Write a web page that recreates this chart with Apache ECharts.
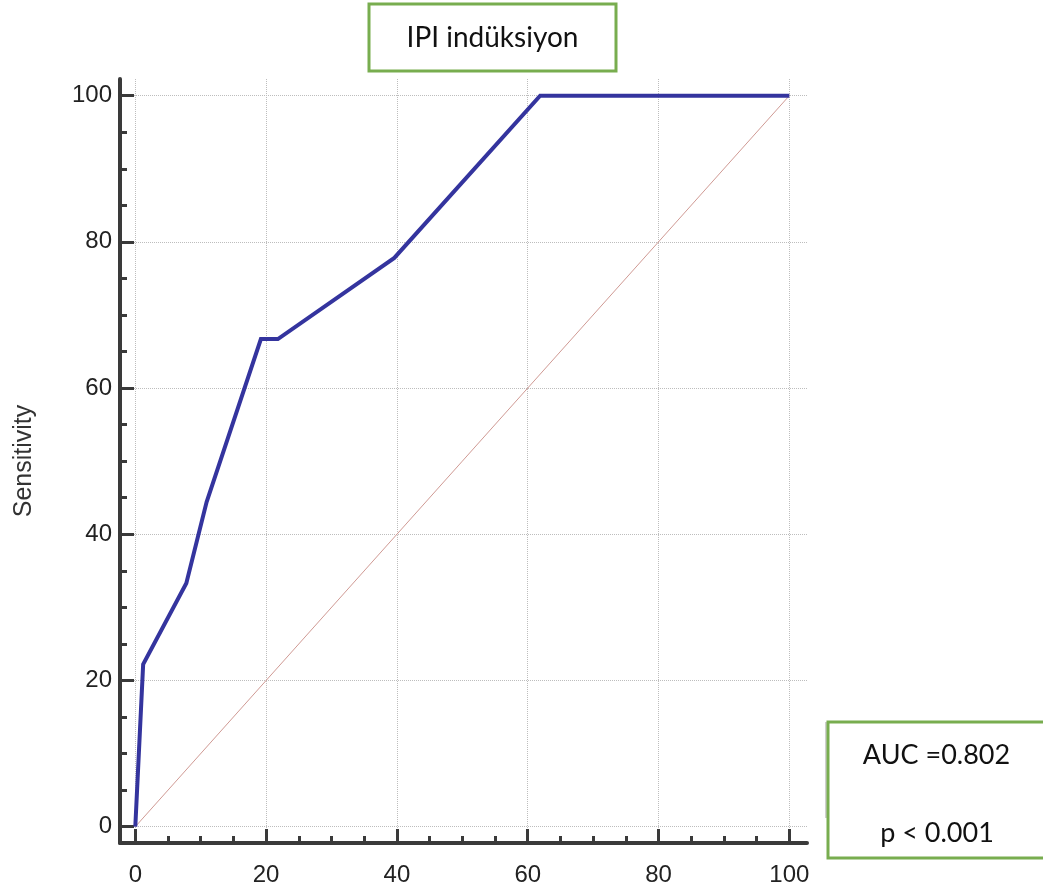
<!DOCTYPE html>
<html>
<head>
<meta charset="utf-8">
<script src="https://cdn.jsdelivr.net/npm/echarts@6/dist/echarts.min.js"></script>
<style>
html,body{margin:0;padding:0;background:#fff;}
#chart{width:1043px;height:892px;}
</style>
</head>
<body>
<div id="chart"></div>
<script>
// Data
var fprValues = [0, 1.2, 7.8, 10.9, 19.2, 21.8, 39.6, 61.9, 100];
var sensitivityValues = [0, 22.2, 33.3, 44.4, 66.7, 66.7, 77.8, 100, 100];
var refLineX = [0, 100];
var refLineY = [0, 100];
var majorTicks = [0, 20, 40, 60, 80, 100];
var minorTicks = [5, 10, 15, 25, 30, 35, 45, 50, 55, 65, 70, 75, 85, 90, 95];
var titleText = 'IPI indüksiyon';
var yAxisTitle = 'Sensitivity';
var aucText = 'AUC =0.802';
var pText = 'p < 0.001';

var rocData = fprValues.map(function (x, i) { return [x, sensitivityValues[i]]; });
var refData = refLineX.map(function (x, i) { return [x, refLineY[i]]; });

var axisColor = '#3a3a3a';
var xMin = -2.34, xMax = 102.7, yMin = -2.23, yMax = 102.28;

function majorAxis(kind) {
  var isX = kind === 'x';
  return {
    type: 'value',
    min: isX ? xMin : yMin,
    max: isX ? xMax : yMax,
    position: isX ? 'bottom' : 'left',
    axisLine: { show: true, onZero: false, lineStyle: { color: axisColor, width: 4 } },
    axisTick: { show: true, inside: true, length: 14, customValues: majorTicks.slice(),
      lineStyle: { color: axisColor, width: 3 } },
    axisLabel: { show: true, customValues: majorTicks.slice(), margin: isX ? 20 : 8,
      fontFamily: 'Liberation Sans', fontSize: 24, color: '#222' },
    splitLine: { show: true, lineStyle: { type: 'dotted', color: '#bdbdbd', width: 1 } }
  };
}
function minorAxis(kind) {
  var isX = kind === 'x';
  return {
    type: 'value',
    min: isX ? xMin : yMin,
    max: isX ? xMax : yMax,
    position: isX ? 'bottom' : 'left',
    axisLine: { show: false, onZero: false },
    axisTick: { show: true, inside: true, length: 7, customValues: minorTicks.slice(),
      lineStyle: { color: axisColor, width: 3 } },
    axisLabel: { show: false },
    splitLine: { show: false }
  };
}

var yMajor = majorAxis('y');
yMajor.name = yAxisTitle;
yMajor.nameLocation = 'middle';
yMajor.nameGap = 83;
yMajor.nameTextStyle = { fontFamily: 'Liberation Sans', fontSize: 25, color: '#333' };

var chart = echarts.init(document.getElementById('chart'), null, { renderer: 'canvas' });
chart.setOption({
  animation: false,
  backgroundColor: '#ffffff',
  grid: { left: 120, top: 79, width: 687, height: 764, containLabel: false },
  xAxis: [majorAxis('x'), minorAxis('x')],
  yAxis: [yMajor, minorAxis('y')],
  series: [
    { type: 'line', data: refData, xAxisIndex: 0, yAxisIndex: 0, symbol: 'none', z: 2,
      lineStyle: { color: '#d09a94', width: 1 } },
    { type: 'line', data: rocData, xAxisIndex: 0, yAxisIndex: 0, symbol: 'none', z: 3,
      lineStyle: { color: '#34349e', width: 4, join: 'miter' } }
  ],
  graphic: [
    { type: 'rect', shape: { x: 369, y: 4, width: 247, height: 67 },
      style: { fill: '#fff', stroke: '#78ad4f', lineWidth: 3 } },
    { type: 'text', x: 492.5, y: 38,
      style: { text: titleText, font: '28px Lato', fill: '#111', align: 'center', verticalAlign: 'middle' } },
    { type: 'line', shape: { x1: 826, y1: 722, x2: 826, y2: 818 },
      style: { stroke: '#cfcfcf', lineWidth: 2 } },
    { type: 'rect', shape: { x: 828, y: 722, width: 240, height: 136 },
      style: { fill: '#fff', stroke: '#78ad4f', lineWidth: 3 } },
    { type: 'text', x: 936.5, y: 755,
      style: { text: aucText, font: '27px Lato', fill: '#111', align: 'center', verticalAlign: 'middle' } },
    { type: 'text', x: 937, y: 833,
      style: { text: pText, font: '27px Lato', fill: '#111', align: 'center', verticalAlign: 'middle' } }
  ]
});
</script>
</body>
</html>
